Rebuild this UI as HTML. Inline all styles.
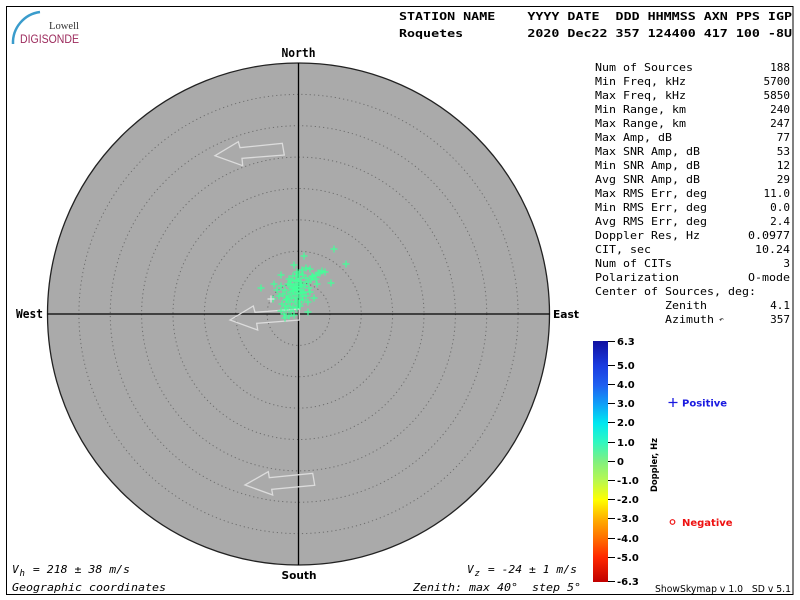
<!DOCTYPE html>
<html><head><meta charset="utf-8"><style>
html,body{margin:0;padding:0;background:#fff;}
svg{display:block;}
svg text{white-space:pre;}
.m{font-family:"DejaVu Sans Mono","Liberation Mono",monospace;}
.s{font-family:"DejaVu Sans","Liberation Sans",sans-serif;}
</style></head><body>
<svg width="800" height="600" viewBox="0 0 800 600" xmlns="http://www.w3.org/2000/svg" xml:space="preserve">
<defs>
<linearGradient id="cb" x1="0" y1="0" x2="0" y2="1">
<stop offset="0" stop-color="#1010a0"/>
<stop offset="0.103" stop-color="#1a3ce0"/>
<stop offset="0.183" stop-color="#2060f0"/>
<stop offset="0.262" stop-color="#10a0f8"/>
<stop offset="0.341" stop-color="#00e8f0"/>
<stop offset="0.42" stop-color="#30f8c0"/>
<stop offset="0.5" stop-color="#80f080"/>
<stop offset="0.579" stop-color="#b8f850"/>
<stop offset="0.659" stop-color="#ffff00"/>
<stop offset="0.738" stop-color="#ffb000"/>
<stop offset="0.817" stop-color="#ff7000"/>
<stop offset="0.897" stop-color="#ff2800"/>
<stop offset="1" stop-color="#c00000"/>
</linearGradient>
<path id="c" d="M-3.5 0h7M0-3.5v7" stroke="#44ff99" stroke-width="1.2" fill="none"/>
</defs>
<rect x="0" y="0" width="800" height="600" fill="#fff"/>
<rect x="6.5" y="6.5" width="786.5" height="588" fill="none" stroke="#000" stroke-width="1"/>

<!-- logo -->
<path d="M13 44 A31 31 0 0 1 40 12" fill="none" stroke="#3a9ccc" stroke-width="2.5"/>
<text x="49" y="29" font-family="Liberation Serif,serif" font-size="11" fill="#333" textLength="30" lengthAdjust="spacingAndGlyphs">Lowell</text>
<text x="20" y="43" font-family="Liberation Sans,sans-serif" font-size="12" fill="#9c2a5c" textLength="59" lengthAdjust="spacingAndGlyphs">DIGISONDE</text>

<!-- header -->
<text class="m" x="399" y="20" font-size="11" font-weight="bold" textLength="393" lengthAdjust="spacingAndGlyphs">STATION NAME    YYYY DATE  DDD HHMMSS AXN PPS IGP</text>
<text class="m" x="399" y="37" font-size="11" font-weight="bold" textLength="393" lengthAdjust="spacingAndGlyphs">Roquetes        2020 Dec22 357 124400 417 100 -8U</text>

<!-- sky map -->
<circle cx="298.5" cy="314" r="251" fill="#aaaaaa" stroke="#222" stroke-width="1.3"/>
<g fill="none" stroke="#6e6e6e" stroke-width="1" stroke-dasharray="1.2 3">
<circle cx="298.5" cy="314" r="31.4"/>
<circle cx="298.5" cy="314" r="62.75"/>
<circle cx="298.5" cy="314" r="94.1"/>
<circle cx="298.5" cy="314" r="125.5"/>
<circle cx="298.5" cy="314" r="156.9"/>
<circle cx="298.5" cy="314" r="188.25"/>
<circle cx="298.5" cy="314" r="219.6"/>
</g>
<line x1="47.5" y1="314" x2="549.5" y2="314" stroke="#000" stroke-width="1.3"/>
<line x1="298.5" y1="63" x2="298.5" y2="565" stroke="#000" stroke-width="1.3"/>

<g fill="none" stroke="#dcdcdc" stroke-width="1.3" stroke-linejoin="miter">
<polygon points="215,155.7 238.3,141.7 240,147.7 282.3,143.3 284.3,155 242,158.3 242.7,165.7"/>
<polygon points="230,320 253.3,306 255,312.3 299,309 299.3,320 256.7,323.3 257.7,330"/>
<polygon points="245,485 268.3,471.7 269.3,477.7 312.7,473.3 314.7,485.3 271.7,489.3 272.7,495"/>
</g>

<g>
<use href="#c" x="334" y="249"/><use href="#c" x="346" y="264"/><use href="#c" x="304" y="256"/>
<use href="#c" x="294" y="265"/><use href="#c" x="281" y="275"/><use href="#c" x="274" y="284"/>
<use href="#c" x="261" y="288"/><use href="#c" x="273" y="299"/><use href="#c" x="282" y="304"/>
<use href="#c" x="281" y="311"/><use href="#c" x="285" y="318"/><use href="#c" x="294" y="315"/>
<use href="#c" x="308" y="312"/><use href="#c" x="331" y="283"/><use href="#c" x="325" y="272"/>
<use href="#c" x="320" y="273"/><use href="#c" x="316" y="275"/><use href="#c" x="313" y="277"/>
<use href="#c" x="317" y="284"/><use href="#c" x="314" y="298"/><use href="#c" x="308" y="302"/>
<use href="#c" x="289" y="316"/>
<use href="#c" x="296" y="280"/><use href="#c" x="299" y="278"/><use href="#c" x="301" y="282"/>
<use href="#c" x="294" y="284"/><use href="#c" x="298" y="286"/><use href="#c" x="302" y="287"/>
<use href="#c" x="292" y="288"/><use href="#c" x="296" y="290"/><use href="#c" x="300" y="290"/>
<use href="#c" x="304" y="292"/><use href="#c" x="290" y="292"/><use href="#c" x="294" y="294"/>
<use href="#c" x="298" y="294"/><use href="#c" x="302" y="296"/><use href="#c" x="288" y="296"/>
<use href="#c" x="292" y="298"/><use href="#c" x="296" y="298"/><use href="#c" x="300" y="300"/>
<use href="#c" x="286" y="300"/><use href="#c" x="290" y="302"/><use href="#c" x="295" y="302"/>
<use href="#c" x="299" y="304"/><use href="#c" x="288" y="306"/><use href="#c" x="293" y="307"/>
<use href="#c" x="297" y="308"/><use href="#c" x="291" y="311"/><use href="#c" x="286" y="309"/>
<use href="#c" x="305" y="285"/><use href="#c" x="308" y="282"/><use href="#c" x="311" y="280"/>
<use href="#c" x="306" y="278"/><use href="#c" x="303" y="275"/><use href="#c" x="299" y="274"/>
<use href="#c" x="309" y="288"/><use href="#c" x="306" y="296"/><use href="#c" x="310" y="292"/>
<use href="#c" x="288" y="284"/><use href="#c" x="285" y="290"/><use href="#c" x="283" y="294"/>
<use href="#c" x="279" y="296"/><use href="#c" x="277" y="290"/><use href="#c" x="281" y="286"/>
<use href="#c" x="289" y="279"/><use href="#c" x="293" y="276"/><use href="#c" x="297" y="272"/>
<use href="#c" x="302" y="270"/><use href="#c" x="306" y="268"/><use href="#c" x="312" y="276"/>
<use href="#c" x="316" y="279"/><use href="#c" x="284" y="314"/><use href="#c" x="296" y="284"/>
<use href="#c" x="300" y="284"/><use href="#c" x="298" y="281"/><use href="#c" x="294" y="287"/>
<use href="#c" x="297" y="289"/><use href="#c" x="302" y="293"/><use href="#c" x="293" y="291"/>
<use href="#c" x="290" y="285"/><use href="#c" x="287" y="299"/><use href="#c" x="285" y="306"/>
<use href="#c" x="300" y="306"/><use href="#c" x="303" y="300"/><use href="#c" x="310" y="269"/>
<use href="#c" x="318" y="273"/><use href="#c" x="322" y="271"/><use href="#c" x="296" y="276"/>
<use href="#c" x="291" y="281"/>
<path d="M267.5 299h7M271 295.5v7" stroke="#e4e4e4" stroke-width="1.2"/>
</g>

<!-- compass labels -->
<text class="m" x="281.5" y="57" font-size="12" font-weight="bold" textLength="34" lengthAdjust="spacingAndGlyphs">North</text>
<text class="m" x="16" y="318" font-size="12" font-weight="bold" textLength="27" lengthAdjust="spacingAndGlyphs">West</text>
<text class="s" x="553" y="318" font-size="11" font-weight="bold" textLength="26" lengthAdjust="spacingAndGlyphs">East</text>
<text class="s" x="281.5" y="579" font-size="11" font-weight="bold" textLength="35" lengthAdjust="spacingAndGlyphs">South</text>

<!-- bottom texts -->
<g class="m" font-size="11" font-style="oblique">
<text x="12" y="573">V</text>
<text x="19.5" y="576" font-size="9">h</text>
<text x="26" y="573" textLength="104" lengthAdjust="spacingAndGlyphs"> = 218 ± 38 m/s</text>
<text x="12" y="591" textLength="154" lengthAdjust="spacingAndGlyphs">Geographic coordinates</text>
<text x="467" y="573">V</text>
<text x="474.5" y="576" font-size="9">z</text>
<text x="481" y="573" textLength="96" lengthAdjust="spacingAndGlyphs"> = -24 ± 1 m/s</text>
<text x="413" y="591" textLength="168" lengthAdjust="spacingAndGlyphs">Zenith: max 40°  step 5°</text>
</g>

<!-- stats -->
<g class="m" font-size="11" fill="#000">
<text x="595" y="71" textLength="98" lengthAdjust="spacingAndGlyphs">Num of Sources</text><text x="790" y="71" text-anchor="end">188</text>
<text x="595" y="85" textLength="91" lengthAdjust="spacingAndGlyphs">Min Freq, kHz</text><text x="790" y="85" text-anchor="end">5700</text>
<text x="595" y="99" textLength="91" lengthAdjust="spacingAndGlyphs">Max Freq, kHz</text><text x="790" y="99" text-anchor="end">5850</text>
<text x="595" y="113" textLength="91" lengthAdjust="spacingAndGlyphs">Min Range, km</text><text x="790" y="113" text-anchor="end">240</text>
<text x="595" y="127" textLength="91" lengthAdjust="spacingAndGlyphs">Max Range, km</text><text x="790" y="127" text-anchor="end">247</text>
<text x="595" y="141" textLength="77" lengthAdjust="spacingAndGlyphs">Max Amp, dB</text><text x="790" y="141" text-anchor="end">77</text>
<text x="595" y="155" textLength="105" lengthAdjust="spacingAndGlyphs">Max SNR Amp, dB</text><text x="790" y="155" text-anchor="end">53</text>
<text x="595" y="169" textLength="105" lengthAdjust="spacingAndGlyphs">Min SNR Amp, dB</text><text x="790" y="169" text-anchor="end">12</text>
<text x="595" y="183" textLength="105" lengthAdjust="spacingAndGlyphs">Avg SNR Amp, dB</text><text x="790" y="183" text-anchor="end">29</text>
<text x="595" y="197" textLength="112" lengthAdjust="spacingAndGlyphs">Max RMS Err, deg</text><text x="790" y="197" text-anchor="end">11.0</text>
<text x="595" y="211" textLength="112" lengthAdjust="spacingAndGlyphs">Min RMS Err, deg</text><text x="790" y="211" text-anchor="end">0.0</text>
<text x="595" y="225" textLength="112" lengthAdjust="spacingAndGlyphs">Avg RMS Err, deg</text><text x="790" y="225" text-anchor="end">2.4</text>
<text x="595" y="239" textLength="105" lengthAdjust="spacingAndGlyphs">Doppler Res, Hz</text><text x="790" y="239" text-anchor="end" textLength="42" lengthAdjust="spacingAndGlyphs">0.0977</text>
<text x="595" y="253" textLength="56" lengthAdjust="spacingAndGlyphs">CIT, sec</text><text x="790" y="253" text-anchor="end" textLength="35" lengthAdjust="spacingAndGlyphs">10.24</text>
<text x="595" y="267" textLength="77" lengthAdjust="spacingAndGlyphs">Num of CITs</text><text x="790" y="267" text-anchor="end">3</text>
<text x="595" y="281" textLength="84" lengthAdjust="spacingAndGlyphs">Polarization</text><text x="790" y="281" text-anchor="end" textLength="42" lengthAdjust="spacingAndGlyphs">O-mode</text>
<text x="595" y="295" textLength="161" lengthAdjust="spacingAndGlyphs">Center of Sources, deg:</text>
<text x="665" y="309" textLength="42" lengthAdjust="spacingAndGlyphs">Zenith</text><text x="790" y="309" text-anchor="end">4.1</text>
<text x="665" y="323" textLength="49" lengthAdjust="spacingAndGlyphs">Azimuth</text><text x="719" y="322" font-size="8">↶</text><text x="790" y="323" text-anchor="end">357</text>
</g>

<!-- colorbar -->
<rect x="593" y="341" width="15" height="241" fill="url(#cb)"/>
<g stroke="#000" stroke-width="1">
<line x1="608" y1="341.5" x2="615" y2="341.5"/>
<line x1="608" y1="365.5" x2="615" y2="365.5"/>
<line x1="608" y1="384.5" x2="615" y2="384.5"/>
<line x1="608" y1="403.5" x2="615" y2="403.5"/>
<line x1="608" y1="422.5" x2="615" y2="422.5"/>
<line x1="608" y1="442.5" x2="615" y2="442.5"/>
<line x1="608" y1="461.5" x2="615" y2="461.5"/>
<line x1="608" y1="480.5" x2="615" y2="480.5"/>
<line x1="608" y1="499.5" x2="615" y2="499.5"/>
<line x1="608" y1="518.5" x2="615" y2="518.5"/>
<line x1="608" y1="538.5" x2="615" y2="538.5"/>
<line x1="608" y1="557.5" x2="615" y2="557.5"/>
<line x1="608" y1="581.5" x2="615" y2="581.5"/>
</g>
<g class="s" font-size="10" font-weight="bold">
<text x="617" y="345">6.3</text>
<text x="617" y="369">5.0</text>
<text x="617" y="388">4.0</text>
<text x="617" y="407">3.0</text>
<text x="617" y="426">2.0</text>
<text x="617" y="446">1.0</text>
<text x="617" y="465">0</text>
<text x="617" y="484">-1.0</text>
<text x="617" y="503">-2.0</text>
<text x="617" y="522">-3.0</text>
<text x="617" y="542">-4.0</text>
<text x="617" y="561">-5.0</text>
<text x="617" y="585">-6.3</text>
</g>
<text class="s" x="0" y="0" font-size="8.5" font-weight="bold" text-anchor="middle" transform="translate(657,465) rotate(-90)" textLength="54" lengthAdjust="spacingAndGlyphs">Doppler, Hz</text>

<path d="M668.5 402.5h9M673 398v9" stroke="#1a1ae0" stroke-width="1.3"/>
<text class="s" x="682" y="406.5" font-size="10" font-weight="bold" fill="#1a1ae0">Positive</text>
<circle cx="672.5" cy="522" r="2.3" fill="none" stroke="#ee1111" stroke-width="1.2"/>
<text class="s" x="682" y="526" font-size="10" font-weight="bold" fill="#ee1111">Negative</text>

<text class="s" x="791" y="592" font-size="9.5" text-anchor="end" textLength="136" lengthAdjust="spacingAndGlyphs">ShowSkymap v 1.0   SD v 5.1</text>
</svg>
</body></html>
